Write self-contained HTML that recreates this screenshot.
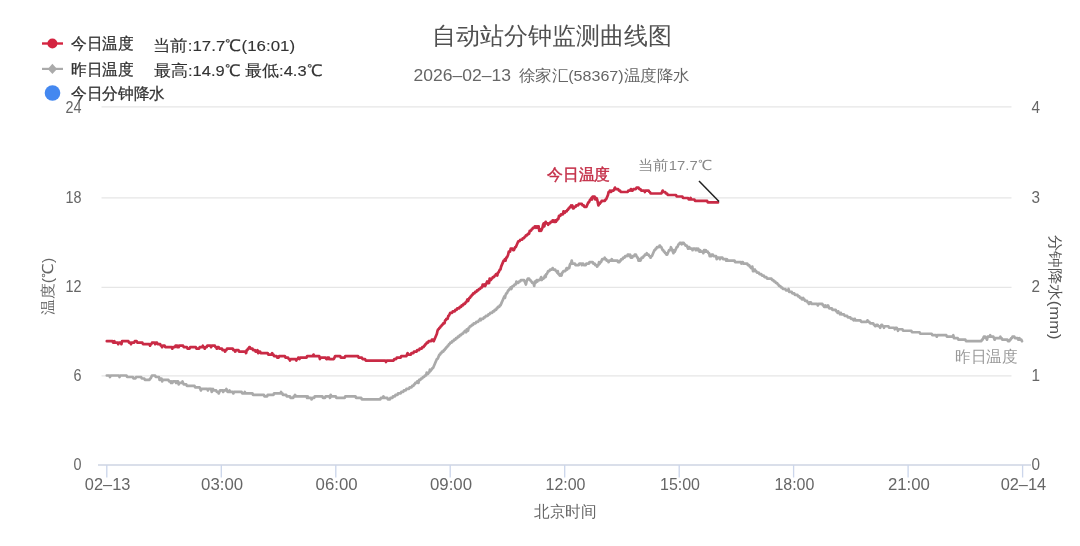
<!DOCTYPE html>
<html><head><meta charset="utf-8"><style>
html,body{margin:0;padding:0;background:#fff;width:1080px;height:546px;overflow:hidden}
svg{display:block;font-family:"Liberation Sans", sans-serif;will-change:transform}
</style></head><body>
<svg width="1080" height="546" viewBox="0 0 1080 546">
<line x1="101.5" y1="106.8" x2="1011.5" y2="106.8" stroke="#e6e6e6" stroke-width="1.33"/>
<line x1="101.5" y1="197.8" x2="1011.5" y2="197.8" stroke="#e6e6e6" stroke-width="1.33"/>
<line x1="101.5" y1="287.4" x2="1011.5" y2="287.4" stroke="#e6e6e6" stroke-width="1.33"/>
<line x1="101.5" y1="375.8" x2="1011.5" y2="375.8" stroke="#e6e6e6" stroke-width="1.33"/>
<line x1="98" y1="465" x2="1031" y2="465" stroke="#ced5e3" stroke-width="1.33"/>
<line x1="106.8" y1="465" x2="106.8" y2="477.5" stroke="#ccd6eb" stroke-width="1.33"/>
<text x="107.6" y="490.2" text-anchor="middle" fill="#666" font-size="16.3" textLength="45.5" lengthAdjust="spacingAndGlyphs">02–13</text>
<line x1="221.3" y1="465" x2="221.3" y2="477.5" stroke="#ccd6eb" stroke-width="1.33"/>
<text x="222.10000000000002" y="490.2" text-anchor="middle" fill="#666" font-size="16.3" textLength="42" lengthAdjust="spacingAndGlyphs">03:00</text>
<line x1="335.8" y1="465" x2="335.8" y2="477.5" stroke="#ccd6eb" stroke-width="1.33"/>
<text x="336.6" y="490.2" text-anchor="middle" fill="#666" font-size="16.3" textLength="42" lengthAdjust="spacingAndGlyphs">06:00</text>
<line x1="450.2" y1="465" x2="450.2" y2="477.5" stroke="#ccd6eb" stroke-width="1.33"/>
<text x="451.0" y="490.2" text-anchor="middle" fill="#666" font-size="16.3" textLength="42" lengthAdjust="spacingAndGlyphs">09:00</text>
<line x1="564.7" y1="465" x2="564.7" y2="477.5" stroke="#ccd6eb" stroke-width="1.33"/>
<text x="565.5" y="490.2" text-anchor="middle" fill="#666" font-size="16.3" textLength="40" lengthAdjust="spacingAndGlyphs">12:00</text>
<line x1="679.2" y1="465" x2="679.2" y2="477.5" stroke="#ccd6eb" stroke-width="1.33"/>
<text x="680.0" y="490.2" text-anchor="middle" fill="#666" font-size="16.3" textLength="40" lengthAdjust="spacingAndGlyphs">15:00</text>
<line x1="793.6" y1="465" x2="793.6" y2="477.5" stroke="#ccd6eb" stroke-width="1.33"/>
<text x="794.4" y="490.2" text-anchor="middle" fill="#666" font-size="16.3" textLength="40" lengthAdjust="spacingAndGlyphs">18:00</text>
<line x1="908.1" y1="465" x2="908.1" y2="477.5" stroke="#ccd6eb" stroke-width="1.33"/>
<text x="908.9" y="490.2" text-anchor="middle" fill="#666" font-size="16.3" textLength="42" lengthAdjust="spacingAndGlyphs">21:00</text>
<line x1="1022.6" y1="465" x2="1022.6" y2="477.5" stroke="#ccd6eb" stroke-width="1.33"/>
<text x="1023.4" y="490.2" text-anchor="middle" fill="#666" font-size="16.3" textLength="45.5" lengthAdjust="spacingAndGlyphs">02–14</text>
<text x="81.5" y="112.9" text-anchor="end" fill="#666" font-size="16.3" textLength="16" lengthAdjust="spacingAndGlyphs">24</text>
<text x="81.5" y="203.1" text-anchor="end" fill="#666" font-size="16.3" textLength="16" lengthAdjust="spacingAndGlyphs">18</text>
<text x="81.5" y="292.1" text-anchor="end" fill="#666" font-size="16.3" textLength="16" lengthAdjust="spacingAndGlyphs">12</text>
<text x="81.5" y="381.2" text-anchor="end" fill="#666" font-size="16.3" textLength="8" lengthAdjust="spacingAndGlyphs">6</text>
<text x="81.5" y="470.2" text-anchor="end" fill="#666" font-size="16.3" textLength="8" lengthAdjust="spacingAndGlyphs">0</text>
<text x="1031.5" y="112.9" text-anchor="start" fill="#666" font-size="16.3" textLength="8.5" lengthAdjust="spacingAndGlyphs">4</text>
<text x="1031.5" y="202.9" text-anchor="start" fill="#666" font-size="16.3" textLength="8.5" lengthAdjust="spacingAndGlyphs">3</text>
<text x="1031.5" y="292.1" text-anchor="start" fill="#666" font-size="16.3" textLength="8.5" lengthAdjust="spacingAndGlyphs">2</text>
<text x="1031.5" y="381.2" text-anchor="start" fill="#666" font-size="16.3" textLength="8.5" lengthAdjust="spacingAndGlyphs">1</text>
<text x="1031.5" y="470.2" text-anchor="start" fill="#666" font-size="16.3" textLength="8.5" lengthAdjust="spacingAndGlyphs">0</text>
<text transform="translate(53.2,286.3) rotate(-90)" text-anchor="middle" fill="#666" font-size="15" textLength="57" lengthAdjust="spacingAndGlyphs">温度(℃)</text>
<text transform="translate(1050,287) rotate(90)" text-anchor="middle" fill="#555" font-size="15" textLength="105" lengthAdjust="spacingAndGlyphs">分钟降水(mm)</text>
<polyline points="106.80,375.50 107.44,375.50 108.07,375.50 108.71,375.50 109.34,375.50 109.98,376.99 110.62,375.50 111.25,375.50 111.89,375.50 112.52,375.50 113.16,375.50 113.80,375.50 114.43,375.50 115.07,375.50 115.70,375.50 116.34,375.50 116.98,375.50 117.61,375.50 118.25,375.50 118.88,375.50 119.52,376.99 120.16,375.50 120.79,375.50 121.43,375.50 122.06,375.50 122.70,375.50 123.34,375.50 123.97,375.50 124.61,375.50 125.24,375.50 125.88,375.50 126.52,375.50 127.15,376.99 127.79,376.99 128.42,376.99 129.06,376.99 129.70,376.99 130.33,376.99 130.97,376.99 131.60,376.99 132.24,376.99 132.88,376.99 133.51,378.48 134.15,378.48 134.78,378.48 135.42,378.48 136.06,376.99 136.69,376.99 137.33,376.99 137.96,376.99 138.60,376.99 139.24,376.99 139.87,376.99 140.51,376.99 141.14,376.99 141.78,378.48 142.42,378.48 143.05,378.48 143.69,378.48 144.32,378.48 144.96,379.97 145.60,379.97 146.23,379.97 146.87,379.97 147.50,379.97 148.14,379.97 148.78,379.97 149.41,379.97 150.05,378.48 150.68,378.48 151.32,376.99 151.96,375.50 152.59,375.50 153.23,375.50 153.86,375.50 154.50,375.50 155.14,375.50 155.77,376.99 156.41,376.99 157.04,376.99 157.68,376.99 158.32,376.99 158.95,376.99 159.59,379.97 160.22,378.48 160.86,378.48 161.50,378.48 162.13,381.46 162.77,379.97 163.40,379.97 164.04,379.97 164.68,379.97 165.31,379.97 165.95,379.97 166.58,379.97 167.22,379.97 167.86,379.97 168.49,379.97 169.13,381.46 169.76,381.46 170.40,381.46 171.04,382.96 171.67,381.46 172.31,382.96 172.94,381.46 173.58,381.46 174.22,381.46 174.85,381.46 175.49,381.46 176.12,382.96 176.76,381.46 177.40,381.46 178.03,381.46 178.67,384.45 179.30,382.96 179.94,382.96 180.58,382.96 181.21,382.96 181.85,382.96 182.48,381.46 183.12,382.96 183.76,384.45 184.39,384.45 185.03,384.45 185.66,384.45 186.30,384.45 186.94,385.94 187.57,385.94 188.21,385.94 188.84,385.94 189.48,385.94 190.12,385.94 190.75,385.94 191.39,385.94 192.02,385.94 192.66,385.94 193.30,385.94 193.93,385.94 194.57,385.94 195.20,387.43 195.84,387.43 196.48,387.43 197.11,387.43 197.75,387.43 198.38,387.43 199.02,387.43 199.66,387.43 200.29,388.92 200.93,390.42 201.56,388.92 202.20,388.92 202.84,388.92 203.47,388.92 204.11,388.92 204.74,388.92 205.38,388.92 206.02,388.92 206.65,388.92 207.29,388.92 207.92,390.42 208.56,388.92 209.20,388.92 209.83,388.92 210.47,388.92 211.10,388.92 211.74,391.91 212.38,390.42 213.01,388.92 213.65,390.42 214.28,390.42 214.92,390.42 215.56,390.42 216.19,390.42 216.83,391.91 217.46,391.91 218.10,391.91 218.74,393.40 219.37,391.91 220.01,390.42 220.64,390.42 221.28,390.42 221.92,390.42 222.55,390.42 223.19,391.91 223.82,390.42 224.46,390.42 225.10,390.42 225.73,390.42 226.37,388.92 227.00,390.42 227.64,391.91 228.28,391.91 228.91,391.91 229.55,390.42 230.18,391.91 230.82,391.91 231.46,391.91 232.09,391.91 232.73,391.91 233.36,393.40 234.00,391.91 234.64,391.91 235.27,391.91 235.91,391.91 236.54,391.91 237.18,391.91 237.82,391.91 238.45,391.91 239.09,391.91 239.72,391.91 240.36,391.91 241.00,391.91 241.63,391.91 242.27,393.40 242.90,393.40 243.54,393.40 244.18,393.40 244.81,391.91 245.45,393.40 246.08,393.40 246.72,393.40 247.36,393.40 247.99,393.40 248.63,393.40 249.26,393.40 249.90,393.40 250.54,393.40 251.17,393.40 251.81,393.40 252.44,393.40 253.08,394.89 253.72,394.89 254.35,394.89 254.99,394.89 255.62,394.89 256.26,394.89 256.90,394.89 257.53,394.89 258.17,394.89 258.80,394.89 259.44,394.89 260.08,394.89 260.71,394.89 261.35,394.89 261.98,394.89 262.62,394.89 263.26,394.89 263.89,394.89 264.53,396.38 265.16,396.38 265.80,396.38 266.44,396.38 267.07,396.38 267.71,394.89 268.34,394.89 268.98,394.89 269.62,394.89 270.25,394.89 270.89,394.89 271.52,394.89 272.16,394.89 272.80,394.89 273.43,394.89 274.07,393.40 274.70,393.40 275.34,393.40 275.98,393.40 276.61,393.40 277.25,393.40 277.88,393.40 278.52,393.40 279.16,393.40 279.79,393.40 280.43,393.40 281.06,391.91 281.70,393.40 282.34,393.40 282.97,394.89 283.61,394.89 284.24,394.89 284.88,394.89 285.52,394.89 286.15,394.89 286.79,396.38 287.42,396.38 288.06,396.38 288.70,396.38 289.33,396.38 289.97,396.38 290.60,397.87 291.24,397.87 291.88,397.87 292.51,397.87 293.15,397.87 293.78,396.38 294.42,396.38 295.06,394.89 295.69,396.38 296.33,396.38 296.96,396.38 297.60,396.38 298.24,396.38 298.87,396.38 299.51,396.38 300.14,396.38 300.78,396.38 301.42,396.38 302.05,396.38 302.69,396.38 303.32,396.38 303.96,396.38 304.60,396.38 305.23,396.38 305.87,396.38 306.50,396.38 307.14,397.87 307.78,396.38 308.41,397.87 309.05,397.87 309.68,397.87 310.32,397.87 310.96,397.87 311.59,399.37 312.23,397.87 312.86,397.87 313.50,397.87 314.14,397.87 314.77,396.38 315.41,396.38 316.04,396.38 316.68,396.38 317.32,396.38 317.95,396.38 318.59,396.38 319.22,396.38 319.86,396.38 320.50,396.38 321.13,396.38 321.77,396.38 322.40,396.38 323.04,397.87 323.68,397.87 324.31,397.87 324.95,397.87 325.58,396.38 326.22,396.38 326.86,396.38 327.49,396.38 328.13,396.38 328.76,396.38 329.40,396.38 330.04,397.87 330.67,394.89 331.31,396.38 331.94,396.38 332.58,396.38 333.22,396.38 333.85,396.38 334.49,396.38 335.12,396.38 335.76,396.38 336.40,397.87 337.03,397.87 337.67,397.87 338.30,397.87 338.94,397.87 339.58,397.87 340.21,397.87 340.85,397.87 341.48,397.87 342.12,397.87 342.76,397.87 343.39,397.87 344.03,397.87 344.66,397.87 345.30,396.38 345.94,396.38 346.57,396.38 347.21,396.38 347.84,396.38 348.48,396.38 349.12,396.38 349.75,396.38 350.39,396.38 351.02,396.38 351.66,396.38 352.30,396.38 352.93,396.38 353.57,396.38 354.20,396.38 354.84,396.38 355.48,396.38 356.11,397.87 356.75,397.87 357.38,397.87 358.02,397.87 358.66,397.87 359.29,397.87 359.93,397.87 360.56,397.87 361.20,397.87 361.84,399.37 362.47,399.37 363.11,399.37 363.74,399.37 364.38,399.37 365.02,399.37 365.65,399.37 366.29,399.37 366.92,399.37 367.56,399.37 368.20,399.37 368.83,399.37 369.47,399.37 370.10,399.37 370.74,399.37 371.38,399.37 372.01,399.37 372.65,399.37 373.28,399.37 373.92,399.37 374.56,399.37 375.19,399.37 375.83,399.37 376.46,399.37 377.10,399.37 377.74,399.37 378.37,399.37 379.01,399.37 379.64,399.37 380.28,399.37 380.92,397.87 381.55,397.87 382.19,397.87 382.82,397.87 383.46,396.38 384.10,397.87 384.73,397.87 385.37,397.87 386.00,397.87 386.64,397.87 387.28,397.87 387.91,399.37 388.55,399.37 389.18,399.37 389.82,399.37 390.46,397.87 391.09,397.87 391.73,397.87 392.36,397.87 393.00,396.38 393.64,396.38 394.27,396.38 394.91,396.38 395.54,394.89 396.18,394.89 396.82,394.89 397.45,394.89 398.09,393.40 398.72,393.40 399.36,393.40 400.00,393.40 400.63,393.40 401.27,391.91 401.90,391.91 402.54,391.91 403.18,391.91 403.81,390.42 404.45,390.42 405.08,390.42 405.72,390.42 406.36,388.92 406.99,388.92 407.63,388.92 408.26,388.92 408.90,388.92 409.54,387.43 410.17,387.43 410.81,387.43 411.44,387.43 412.08,385.94 412.72,385.94 413.35,385.94 413.99,384.45 414.62,384.45 415.26,382.96 415.90,382.96 416.53,382.96 417.17,381.46 417.80,381.46 418.44,382.96 419.08,379.97 419.71,379.97 420.35,379.97 420.98,378.48 421.62,378.48 422.26,378.48 422.89,376.99 423.53,376.99 424.16,376.99 424.80,375.50 425.44,375.50 426.07,375.50 426.71,372.51 427.34,374.01 427.98,374.01 428.62,372.51 429.25,372.51 429.89,369.53 430.52,371.02 431.16,369.53 431.80,369.53 432.43,368.04 433.07,368.04 433.70,366.55 434.34,365.06 434.98,363.56 435.61,362.07 436.25,360.58 436.88,359.09 437.52,359.09 438.16,357.60 438.79,356.11 439.43,354.61 440.06,354.61 440.70,353.12 441.34,353.12 441.97,351.63 442.61,351.63 443.24,351.63 443.88,350.14 444.52,350.14 445.15,348.65 445.79,348.65 446.42,347.16 447.06,347.16 447.70,345.66 448.33,345.66 448.97,344.17 449.60,344.17 450.24,342.68 450.88,342.68 451.51,342.68 452.15,341.19 452.78,341.19 453.42,341.19 454.06,339.70 454.69,339.70 455.33,339.70 455.96,338.21 456.60,338.21 457.24,338.21 457.87,336.71 458.51,336.71 459.14,336.71 459.78,335.22 460.42,335.22 461.05,335.22 461.69,333.73 462.32,333.73 462.96,333.73 463.60,332.24 464.23,332.24 464.87,330.75 465.50,330.75 466.14,332.24 466.78,329.26 467.41,329.26 468.05,330.75 468.68,327.76 469.32,327.76 469.96,326.27 470.59,326.27 471.23,326.27 471.86,324.78 472.50,324.78 473.14,324.78 473.77,323.29 474.41,323.29 475.04,323.29 475.68,323.29 476.32,321.80 476.95,321.80 477.59,321.80 478.22,321.80 478.86,320.31 479.50,320.31 480.13,318.81 480.77,320.31 481.40,318.81 482.04,318.81 482.68,318.81 483.31,318.81 483.95,317.32 484.58,317.32 485.22,317.32 485.86,315.83 486.49,315.83 487.13,315.83 487.76,315.83 488.40,314.34 489.04,314.34 489.67,314.34 490.31,312.85 490.94,312.85 491.58,312.85 492.22,312.85 492.85,311.35 493.49,311.35 494.12,311.35 494.76,309.86 495.40,309.86 496.03,309.86 496.67,308.37 497.30,308.37 497.94,306.88 498.58,306.88 499.21,306.88 499.85,305.39 500.48,305.39 501.12,303.90 501.76,302.40 502.39,300.91 503.03,299.42 503.66,297.93 504.30,296.44 504.94,297.93 505.57,294.95 506.21,293.45 506.84,293.45 507.48,291.96 508.12,290.47 508.75,290.47 509.39,288.98 510.02,288.98 510.66,287.49 511.30,288.98 511.93,287.49 512.57,286.00 513.20,286.00 513.84,286.00 514.48,284.50 515.11,284.50 515.75,284.50 516.38,281.52 517.02,283.01 517.66,283.01 518.29,283.01 518.93,281.52 519.56,281.52 520.20,281.52 520.84,280.03 521.47,280.03 522.11,280.03 522.74,280.03 523.38,280.03 524.02,280.03 524.65,281.52 525.29,283.01 525.92,284.50 526.56,281.52 527.20,280.03 527.83,278.54 528.47,278.54 529.10,278.54 529.74,280.03 530.38,280.03 531.01,281.52 531.65,281.52 532.28,283.01 532.92,283.01 533.56,283.01 534.19,286.00 534.83,281.52 535.46,283.01 536.10,281.52 536.74,280.03 537.37,281.52 538.01,280.03 538.64,280.03 539.28,280.03 539.92,280.03 540.55,278.54 541.19,277.05 541.82,280.03 542.46,278.54 543.10,278.54 543.73,278.54 544.37,277.05 545.00,275.55 545.64,277.05 546.28,274.06 546.91,274.06 547.55,272.57 548.18,271.08 548.82,271.08 549.46,271.08 550.09,269.59 550.73,269.59 551.36,269.59 552.00,269.59 552.64,268.10 553.27,269.59 553.91,269.59 554.54,269.59 555.18,269.59 555.82,271.08 556.45,271.08 557.09,272.57 557.72,271.08 558.36,274.06 559.00,274.06 559.63,275.55 560.27,275.55 560.90,274.06 561.54,275.55 562.18,272.57 562.81,272.57 563.45,271.08 564.08,271.08 564.72,271.08 565.36,271.08 565.99,269.59 566.63,268.10 567.26,269.59 567.90,268.10 568.54,268.10 569.17,268.10 569.81,265.11 570.44,263.62 571.08,263.62 571.72,260.64 572.35,263.62 572.99,263.62 573.62,263.62 574.26,263.62 574.90,263.62 575.53,265.11 576.17,265.11 576.80,265.11 577.44,265.11 578.08,265.11 578.71,265.11 579.35,263.62 579.98,263.62 580.62,263.62 581.26,263.62 581.89,265.11 582.53,263.62 583.16,263.62 583.80,265.11 584.44,265.11 585.07,265.11 585.71,265.11 586.34,263.62 586.98,263.62 587.62,263.62 588.25,263.62 588.89,263.62 589.52,262.13 590.16,262.13 590.80,262.13 591.43,262.13 592.07,262.13 592.70,262.13 593.34,263.62 593.98,263.62 594.61,263.62 595.25,265.11 595.88,265.11 596.52,265.11 597.16,266.60 597.79,265.11 598.43,265.11 599.06,262.13 599.70,263.62 600.34,262.13 600.97,262.13 601.61,260.64 602.24,259.15 602.88,259.15 603.52,259.15 604.15,259.15 604.79,257.65 605.42,259.15 606.06,259.15 606.70,260.64 607.33,260.64 607.97,260.64 608.60,262.13 609.24,260.64 609.88,260.64 610.51,260.64 611.15,260.64 611.78,259.15 612.42,260.64 613.06,260.64 613.69,260.64 614.33,260.64 614.96,260.64 615.60,260.64 616.24,260.64 616.87,260.64 617.51,260.64 618.14,262.13 618.78,262.13 619.42,262.13 620.05,260.64 620.69,260.64 621.32,259.15 621.96,259.15 622.60,259.15 623.23,257.65 623.87,257.65 624.50,257.65 625.14,256.16 625.78,256.16 626.41,256.16 627.05,256.16 627.68,254.67 628.32,254.67 628.96,254.67 629.59,256.16 630.23,254.67 630.86,257.65 631.50,257.65 632.14,257.65 632.77,256.16 633.41,256.16 634.04,256.16 634.68,254.67 635.32,254.67 635.95,254.67 636.59,256.16 637.22,257.65 637.86,257.65 638.50,260.64 639.13,259.15 639.77,260.64 640.40,260.64 641.04,259.15 641.68,257.65 642.31,257.65 642.95,257.65 643.58,256.16 644.22,256.16 644.86,254.67 645.49,254.67 646.13,254.67 646.76,253.18 647.40,254.67 648.04,254.67 648.67,254.67 649.31,256.16 649.94,256.16 650.58,257.65 651.22,256.16 651.85,256.16 652.49,254.67 653.12,253.18 653.76,251.69 654.40,250.20 655.03,250.20 655.67,248.70 656.30,248.70 656.94,247.21 657.58,247.21 658.21,247.21 658.85,247.21 659.48,245.72 660.12,245.72 660.76,247.21 661.39,247.21 662.03,248.70 662.66,250.20 663.30,250.20 663.94,251.69 664.57,251.69 665.21,253.18 665.84,253.18 666.48,254.67 667.12,254.67 667.75,253.18 668.39,251.69 669.02,250.20 669.66,250.20 670.30,250.20 670.93,247.21 671.57,248.70 672.20,250.20 672.84,251.69 673.48,253.18 674.11,250.20 674.75,251.69 675.38,250.20 676.02,248.70 676.66,247.21 677.29,247.21 677.93,245.72 678.56,244.23 679.20,244.23 679.84,242.74 680.47,242.74 681.11,242.74 681.74,244.23 682.38,242.74 683.02,242.74 683.65,242.74 684.29,244.23 684.92,244.23 685.56,245.72 686.20,245.72 686.83,245.72 687.47,247.21 688.10,248.70 688.74,247.21 689.38,247.21 690.01,248.70 690.65,248.70 691.28,248.70 691.92,248.70 692.56,250.20 693.19,248.70 693.83,248.70 694.46,248.70 695.10,248.70 695.74,250.20 696.37,248.70 697.01,248.70 697.64,250.20 698.28,248.70 698.92,250.20 699.55,251.69 700.19,250.20 700.82,251.69 701.46,251.69 702.10,251.69 702.73,251.69 703.37,253.18 704.00,250.20 704.64,250.20 705.28,251.69 705.91,250.20 706.55,251.69 707.18,251.69 707.82,251.69 708.46,253.18 709.09,253.18 709.73,256.16 710.36,254.67 711.00,256.16 711.64,254.67 712.27,254.67 712.91,254.67 713.54,256.16 714.18,256.16 714.82,256.16 715.45,256.16 716.09,256.16 716.72,259.15 717.36,257.65 718.00,257.65 718.63,257.65 719.27,257.65 719.90,259.15 720.54,257.65 721.18,257.65 721.81,257.65 722.45,257.65 723.08,259.15 723.72,259.15 724.36,259.15 724.99,259.15 725.63,259.15 726.26,260.64 726.90,259.15 727.54,260.64 728.17,260.64 728.81,260.64 729.44,260.64 730.08,260.64 730.72,260.64 731.35,260.64 731.99,260.64 732.62,260.64 733.26,260.64 733.90,260.64 734.53,260.64 735.17,262.13 735.80,262.13 736.44,262.13 737.08,262.13 737.71,262.13 738.35,262.13 738.98,262.13 739.62,262.13 740.26,262.13 740.89,262.13 741.53,263.62 742.16,262.13 742.80,262.13 743.44,263.62 744.07,263.62 744.71,263.62 745.34,263.62 745.98,263.62 746.62,263.62 747.25,263.62 747.89,265.11 748.52,265.11 749.16,265.11 749.80,266.60 750.43,266.60 751.07,268.10 751.70,268.10 752.34,266.60 752.98,271.08 753.61,269.59 754.25,271.08 754.88,269.59 755.52,271.08 756.16,271.08 756.79,272.57 757.43,272.57 758.06,272.57 758.70,272.57 759.34,274.06 759.97,274.06 760.61,274.06 761.24,274.06 761.88,275.55 762.52,275.55 763.15,275.55 763.79,275.55 764.42,277.05 765.06,277.05 765.70,277.05 766.33,277.05 766.97,278.54 767.60,278.54 768.24,278.54 768.88,278.54 769.51,278.54 770.15,278.54 770.78,278.54 771.42,278.54 772.06,280.03 772.69,280.03 773.33,280.03 773.96,281.52 774.60,281.52 775.24,281.52 775.87,283.01 776.51,283.01 777.14,283.01 777.78,284.50 778.42,284.50 779.05,286.00 779.69,286.00 780.32,286.00 780.96,287.49 781.60,287.49 782.23,287.49 782.87,288.98 783.50,288.98 784.14,288.98 784.78,288.98 785.41,288.98 786.05,290.47 786.68,290.47 787.32,290.47 787.96,290.47 788.59,288.98 789.23,291.96 789.86,291.96 790.50,291.96 791.14,291.96 791.77,291.96 792.41,293.45 793.04,293.45 793.68,293.45 794.32,293.45 794.95,294.95 795.59,294.95 796.22,294.95 796.86,294.95 797.50,294.95 798.13,296.44 798.77,296.44 799.40,296.44 800.04,297.93 800.68,297.93 801.31,297.93 801.95,299.42 802.58,299.42 803.22,297.93 803.86,299.42 804.49,299.42 805.13,300.91 805.76,300.91 806.40,300.91 807.04,300.91 807.67,302.40 808.31,302.40 808.94,303.90 809.58,302.40 810.22,302.40 810.85,302.40 811.49,303.90 812.12,303.90 812.76,303.90 813.40,303.90 814.03,303.90 814.67,303.90 815.30,303.90 815.94,303.90 816.58,303.90 817.21,303.90 817.85,305.39 818.48,303.90 819.12,303.90 819.76,303.90 820.39,303.90 821.03,303.90 821.66,303.90 822.30,303.90 822.94,305.39 823.57,305.39 824.21,306.88 824.84,306.88 825.48,305.39 826.12,306.88 826.75,306.88 827.39,306.88 828.02,305.39 828.66,306.88 829.30,308.37 829.93,308.37 830.57,308.37 831.20,308.37 831.84,308.37 832.48,309.86 833.11,309.86 833.75,309.86 834.38,309.86 835.02,309.86 835.66,309.86 836.29,311.35 836.93,311.35 837.56,312.85 838.20,311.35 838.84,312.85 839.47,312.85 840.11,314.34 840.74,312.85 841.38,314.34 842.02,314.34 842.65,314.34 843.29,314.34 843.92,314.34 844.56,315.83 845.20,315.83 845.83,315.83 846.47,315.83 847.10,315.83 847.74,317.32 848.38,317.32 849.01,317.32 849.65,317.32 850.28,317.32 850.92,318.81 851.56,318.81 852.19,318.81 852.83,318.81 853.46,320.31 854.10,320.31 854.74,318.81 855.37,320.31 856.01,320.31 856.64,320.31 857.28,320.31 857.92,320.31 858.55,320.31 859.19,320.31 859.82,320.31 860.46,320.31 861.10,321.80 861.73,321.80 862.37,321.80 863.00,321.80 863.64,321.80 864.28,321.80 864.91,321.80 865.55,321.80 866.18,321.80 866.82,321.80 867.46,320.31 868.09,321.80 868.73,321.80 869.36,321.80 870.00,323.29 870.64,323.29 871.27,323.29 871.91,323.29 872.54,323.29 873.18,323.29 873.82,324.78 874.45,324.78 875.09,326.27 875.72,326.27 876.36,324.78 877.00,324.78 877.63,324.78 878.27,326.27 878.90,326.27 879.54,326.27 880.18,327.76 880.81,326.27 881.45,324.78 882.08,324.78 882.72,326.27 883.36,326.27 883.99,327.76 884.63,326.27 885.26,326.27 885.90,326.27 886.54,326.27 887.17,326.27 887.81,326.27 888.44,326.27 889.08,327.76 889.72,327.76 890.35,327.76 890.99,327.76 891.62,327.76 892.26,327.76 892.90,327.76 893.53,327.76 894.17,327.76 894.80,329.26 895.44,327.76 896.08,327.76 896.71,327.76 897.35,329.26 897.98,330.75 898.62,329.26 899.26,329.26 899.89,329.26 900.53,329.26 901.16,329.26 901.80,329.26 902.44,329.26 903.07,330.75 903.71,330.75 904.34,330.75 904.98,330.75 905.62,330.75 906.25,330.75 906.89,330.75 907.52,330.75 908.16,330.75 908.80,330.75 909.43,330.75 910.07,330.75 910.70,330.75 911.34,330.75 911.98,332.24 912.61,332.24 913.25,332.24 913.88,332.24 914.52,332.24 915.16,332.24 915.79,332.24 916.43,332.24 917.06,332.24 917.70,332.24 918.34,332.24 918.97,332.24 919.61,332.24 920.24,333.73 920.88,333.73 921.52,333.73 922.15,333.73 922.79,333.73 923.42,333.73 924.06,333.73 924.70,333.73 925.33,333.73 925.97,333.73 926.60,333.73 927.24,333.73 927.88,333.73 928.51,333.73 929.15,333.73 929.78,333.73 930.42,333.73 931.06,333.73 931.69,333.73 932.33,335.22 932.96,335.22 933.60,335.22 934.24,335.22 934.87,335.22 935.51,335.22 936.14,335.22 936.78,336.71 937.42,335.22 938.05,335.22 938.69,335.22 939.32,335.22 939.96,335.22 940.60,335.22 941.23,335.22 941.87,335.22 942.50,335.22 943.14,335.22 943.78,335.22 944.41,335.22 945.05,335.22 945.68,335.22 946.32,335.22 946.96,336.71 947.59,336.71 948.23,336.71 948.86,336.71 949.50,336.71 950.14,336.71 950.77,336.71 951.41,336.71 952.04,336.71 952.68,336.71 953.32,335.22 953.95,338.21 954.59,338.21 955.22,338.21 955.86,338.21 956.50,338.21 957.13,338.21 957.77,338.21 958.40,339.70 959.04,339.70 959.68,339.70 960.31,339.70 960.95,339.70 961.58,339.70 962.22,339.70 962.86,339.70 963.49,339.70 964.13,339.70 964.76,339.70 965.40,339.70 966.04,341.19 966.67,341.19 967.31,341.19 967.94,341.19 968.58,341.19 969.22,341.19 969.85,341.19 970.49,341.19 971.12,341.19 971.76,341.19 972.40,341.19 973.03,341.19 973.67,341.19 974.30,341.19 974.94,341.19 975.58,341.19 976.21,341.19 976.85,341.19 977.48,341.19 978.12,341.19 978.76,341.19 979.39,341.19 980.03,341.19 980.66,341.19 981.30,341.19 981.94,339.70 982.57,339.70 983.21,338.21 983.84,336.71 984.48,336.71 985.12,336.71 985.75,338.21 986.39,338.21 987.02,339.70 987.66,336.71 988.30,336.71 988.93,336.71 989.57,336.71 990.20,335.22 990.84,336.71 991.48,336.71 992.11,336.71 992.75,336.71 993.38,336.71 994.02,338.21 994.66,339.70 995.29,338.21 995.93,338.21 996.56,338.21 997.20,338.21 997.84,338.21 998.47,338.21 999.11,338.21 999.74,338.21 1000.38,336.71 1001.02,338.21 1001.65,338.21 1002.29,339.70 1002.92,339.70 1003.56,339.70 1004.20,339.70 1004.83,339.70 1005.47,339.70 1006.10,339.70 1006.74,339.70 1007.38,339.70 1008.01,341.19 1008.65,341.19 1009.28,341.19 1009.92,339.70 1010.56,339.70 1011.19,338.21 1011.83,338.21 1012.46,336.71 1013.10,336.71 1013.74,336.71 1014.37,336.71 1015.01,338.21 1015.64,338.21 1016.28,338.21 1016.92,338.21 1017.55,338.21 1018.19,339.70 1018.82,339.70 1019.46,338.21 1020.10,339.70 1020.73,339.70 1021.37,339.70 1022.00,341.19" fill="none" stroke="#aaaaaa" stroke-width="2.7" stroke-linejoin="round" stroke-linecap="round"/>
<polyline points="106.80,341.19 107.44,341.19 108.07,341.19 108.71,341.19 109.34,341.19 109.98,341.19 110.62,341.19 111.25,341.19 111.89,341.19 112.52,341.19 113.16,342.68 113.80,342.68 114.43,341.19 115.07,342.68 115.70,342.68 116.34,342.68 116.98,342.68 117.61,342.68 118.25,344.17 118.88,342.68 119.52,342.68 120.16,342.68 120.79,342.68 121.43,344.17 122.06,341.19 122.70,341.19 123.34,341.19 123.97,341.19 124.61,341.19 125.24,341.19 125.88,341.19 126.52,341.19 127.15,341.19 127.79,341.19 128.42,341.19 129.06,342.68 129.70,342.68 130.33,342.68 130.97,344.17 131.60,342.68 132.24,342.68 132.88,342.68 133.51,342.68 134.15,342.68 134.78,341.19 135.42,341.19 136.06,341.19 136.69,341.19 137.33,342.68 137.96,342.68 138.60,342.68 139.24,342.68 139.87,342.68 140.51,342.68 141.14,342.68 141.78,342.68 142.42,342.68 143.05,344.17 143.69,344.17 144.32,344.17 144.96,344.17 145.60,344.17 146.23,344.17 146.87,344.17 147.50,344.17 148.14,344.17 148.78,344.17 149.41,344.17 150.05,345.66 150.68,344.17 151.32,344.17 151.96,342.68 152.59,342.68 153.23,342.68 153.86,342.68 154.50,342.68 155.14,344.17 155.77,342.68 156.41,342.68 157.04,342.68 157.68,344.17 158.32,344.17 158.95,344.17 159.59,344.17 160.22,344.17 160.86,345.66 161.50,345.66 162.13,347.16 162.77,345.66 163.40,345.66 164.04,345.66 164.68,345.66 165.31,347.16 165.95,347.16 166.58,347.16 167.22,347.16 167.86,347.16 168.49,347.16 169.13,347.16 169.76,347.16 170.40,347.16 171.04,347.16 171.67,347.16 172.31,348.65 172.94,347.16 173.58,347.16 174.22,347.16 174.85,347.16 175.49,345.66 176.12,345.66 176.76,345.66 177.40,347.16 178.03,345.66 178.67,347.16 179.30,345.66 179.94,345.66 180.58,345.66 181.21,345.66 181.85,345.66 182.48,345.66 183.12,345.66 183.76,347.16 184.39,347.16 185.03,347.16 185.66,347.16 186.30,347.16 186.94,347.16 187.57,348.65 188.21,348.65 188.84,348.65 189.48,348.65 190.12,347.16 190.75,347.16 191.39,347.16 192.02,347.16 192.66,347.16 193.30,347.16 193.93,347.16 194.57,347.16 195.20,347.16 195.84,347.16 196.48,348.65 197.11,348.65 197.75,348.65 198.38,348.65 199.02,348.65 199.66,347.16 200.29,347.16 200.93,347.16 201.56,347.16 202.20,347.16 202.84,345.66 203.47,347.16 204.11,347.16 204.74,348.65 205.38,347.16 206.02,347.16 206.65,347.16 207.29,345.66 207.92,345.66 208.56,345.66 209.20,345.66 209.83,345.66 210.47,345.66 211.10,347.16 211.74,345.66 212.38,345.66 213.01,345.66 213.65,345.66 214.28,345.66 214.92,345.66 215.56,347.16 216.19,347.16 216.83,348.65 217.46,347.16 218.10,347.16 218.74,347.16 219.37,348.65 220.01,348.65 220.64,348.65 221.28,348.65 221.92,348.65 222.55,350.14 223.19,350.14 223.82,350.14 224.46,350.14 225.10,351.63 225.73,350.14 226.37,350.14 227.00,348.65 227.64,348.65 228.28,348.65 228.91,348.65 229.55,348.65 230.18,348.65 230.82,348.65 231.46,348.65 232.09,348.65 232.73,348.65 233.36,350.14 234.00,350.14 234.64,350.14 235.27,351.63 235.91,350.14 236.54,350.14 237.18,350.14 237.82,350.14 238.45,350.14 239.09,351.63 239.72,351.63 240.36,351.63 241.00,351.63 241.63,351.63 242.27,351.63 242.90,351.63 243.54,351.63 244.18,351.63 244.81,351.63 245.45,351.63 246.08,353.12 246.72,350.14 247.36,350.14 247.99,348.65 248.63,348.65 249.26,347.16 249.90,347.16 250.54,348.65 251.17,348.65 251.81,348.65 252.44,348.65 253.08,350.14 253.72,350.14 254.35,350.14 254.99,350.14 255.62,351.63 256.26,351.63 256.90,351.63 257.53,350.14 258.17,353.12 258.80,351.63 259.44,351.63 260.08,351.63 260.71,353.12 261.35,353.12 261.98,353.12 262.62,353.12 263.26,353.12 263.89,353.12 264.53,353.12 265.16,353.12 265.80,353.12 266.44,353.12 267.07,353.12 267.71,353.12 268.34,354.61 268.98,354.61 269.62,354.61 270.25,354.61 270.89,354.61 271.52,354.61 272.16,353.12 272.80,354.61 273.43,354.61 274.07,356.11 274.70,356.11 275.34,356.11 275.98,356.11 276.61,356.11 277.25,357.60 277.88,357.60 278.52,357.60 279.16,356.11 279.79,356.11 280.43,356.11 281.06,356.11 281.70,356.11 282.34,356.11 282.97,356.11 283.61,356.11 284.24,356.11 284.88,356.11 285.52,357.60 286.15,357.60 286.79,357.60 287.42,357.60 288.06,357.60 288.70,359.09 289.33,359.09 289.97,360.58 290.60,359.09 291.24,359.09 291.88,359.09 292.51,359.09 293.15,359.09 293.78,359.09 294.42,359.09 295.06,359.09 295.69,359.09 296.33,360.58 296.96,359.09 297.60,359.09 298.24,357.60 298.87,357.60 299.51,359.09 300.14,357.60 300.78,357.60 301.42,357.60 302.05,357.60 302.69,357.60 303.32,357.60 303.96,357.60 304.60,357.60 305.23,357.60 305.87,357.60 306.50,357.60 307.14,356.11 307.78,356.11 308.41,356.11 309.05,356.11 309.68,356.11 310.32,356.11 310.96,356.11 311.59,356.11 312.23,356.11 312.86,356.11 313.50,354.61 314.14,356.11 314.77,356.11 315.41,356.11 316.04,356.11 316.68,356.11 317.32,356.11 317.95,356.11 318.59,356.11 319.22,356.11 319.86,359.09 320.50,357.60 321.13,357.60 321.77,357.60 322.40,357.60 323.04,357.60 323.68,357.60 324.31,357.60 324.95,357.60 325.58,357.60 326.22,359.09 326.86,359.09 327.49,357.60 328.13,359.09 328.76,357.60 329.40,359.09 330.04,359.09 330.67,359.09 331.31,359.09 331.94,359.09 332.58,359.09 333.22,359.09 333.85,359.09 334.49,357.60 335.12,356.11 335.76,356.11 336.40,356.11 337.03,356.11 337.67,356.11 338.30,356.11 338.94,356.11 339.58,356.11 340.21,356.11 340.85,357.60 341.48,357.60 342.12,357.60 342.76,357.60 343.39,357.60 344.03,357.60 344.66,357.60 345.30,356.11 345.94,356.11 346.57,356.11 347.21,356.11 347.84,356.11 348.48,356.11 349.12,356.11 349.75,356.11 350.39,356.11 351.02,356.11 351.66,356.11 352.30,356.11 352.93,356.11 353.57,356.11 354.20,356.11 354.84,356.11 355.48,356.11 356.11,356.11 356.75,356.11 357.38,356.11 358.02,356.11 358.66,357.60 359.29,357.60 359.93,357.60 360.56,357.60 361.20,357.60 361.84,357.60 362.47,359.09 363.11,359.09 363.74,359.09 364.38,359.09 365.02,359.09 365.65,360.58 366.29,360.58 366.92,360.58 367.56,360.58 368.20,360.58 368.83,360.58 369.47,360.58 370.10,360.58 370.74,360.58 371.38,360.58 372.01,360.58 372.65,360.58 373.28,360.58 373.92,360.58 374.56,360.58 375.19,360.58 375.83,360.58 376.46,360.58 377.10,360.58 377.74,360.58 378.37,360.58 379.01,360.58 379.64,360.58 380.28,360.58 380.92,360.58 381.55,360.58 382.19,360.58 382.82,360.58 383.46,360.58 384.10,360.58 384.73,360.58 385.37,360.58 386.00,362.07 386.64,360.58 387.28,360.58 387.91,360.58 388.55,360.58 389.18,360.58 389.82,360.58 390.46,360.58 391.09,360.58 391.73,360.58 392.36,360.58 393.00,360.58 393.64,360.58 394.27,359.09 394.91,359.09 395.54,359.09 396.18,359.09 396.82,357.60 397.45,357.60 398.09,357.60 398.72,357.60 399.36,357.60 400.00,357.60 400.63,357.60 401.27,356.11 401.90,356.11 402.54,356.11 403.18,356.11 403.81,356.11 404.45,356.11 405.08,356.11 405.72,356.11 406.36,356.11 406.99,354.61 407.63,353.12 408.26,354.61 408.90,354.61 409.54,354.61 410.17,354.61 410.81,354.61 411.44,353.12 412.08,353.12 412.72,353.12 413.35,353.12 413.99,351.63 414.62,351.63 415.26,351.63 415.90,351.63 416.53,351.63 417.17,350.14 417.80,350.14 418.44,350.14 419.08,350.14 419.71,348.65 420.35,348.65 420.98,348.65 421.62,348.65 422.26,347.16 422.89,347.16 423.53,347.16 424.16,345.66 424.80,345.66 425.44,344.17 426.07,344.17 426.71,342.68 427.34,342.68 427.98,342.68 428.62,341.19 429.25,341.19 429.89,341.19 430.52,341.19 431.16,341.19 431.80,339.70 432.43,339.70 433.07,339.70 433.70,341.19 434.34,339.70 434.98,338.21 435.61,336.71 436.25,335.22 436.88,333.73 437.52,330.75 438.16,329.26 438.79,329.26 439.43,327.76 440.06,327.76 440.70,326.27 441.34,326.27 441.97,324.78 442.61,324.78 443.24,323.29 443.88,323.29 444.52,323.29 445.15,320.31 445.79,320.31 446.42,318.81 447.06,318.81 447.70,318.81 448.33,315.83 448.97,315.83 449.60,314.34 450.24,312.85 450.88,312.85 451.51,312.85 452.15,312.85 452.78,311.35 453.42,311.35 454.06,311.35 454.69,311.35 455.33,309.86 455.96,309.86 456.60,309.86 457.24,308.37 457.87,308.37 458.51,308.37 459.14,308.37 459.78,306.88 460.42,306.88 461.05,306.88 461.69,305.39 462.32,305.39 462.96,305.39 463.60,303.90 464.23,303.90 464.87,303.90 465.50,302.40 466.14,302.40 466.78,300.91 467.41,299.42 468.05,300.91 468.68,299.42 469.32,297.93 469.96,297.93 470.59,296.44 471.23,296.44 471.86,294.95 472.50,294.95 473.14,293.45 473.77,293.45 474.41,293.45 475.04,291.96 475.68,291.96 476.32,291.96 476.95,290.47 477.59,290.47 478.22,290.47 478.86,288.98 479.50,288.98 480.13,288.98 480.77,287.49 481.40,287.49 482.04,287.49 482.68,284.50 483.31,286.00 483.95,286.00 484.58,284.50 485.22,286.00 485.86,284.50 486.49,283.01 487.13,281.52 487.76,283.01 488.40,281.52 489.04,283.01 489.67,278.54 490.31,280.03 490.94,280.03 491.58,278.54 492.22,278.54 492.85,277.05 493.49,277.05 494.12,277.05 494.76,275.55 495.40,275.55 496.03,274.06 496.67,274.06 497.30,275.55 497.94,272.57 498.58,272.57 499.21,271.08 499.85,269.59 500.48,269.59 501.12,266.60 501.76,265.11 502.39,263.62 503.03,262.13 503.66,260.64 504.30,260.64 504.94,259.15 505.57,260.64 506.21,257.65 506.84,257.65 507.48,256.16 508.12,254.67 508.75,251.69 509.39,251.69 510.02,251.69 510.66,248.70 511.30,248.70 511.93,248.70 512.57,248.70 513.20,250.20 513.84,250.20 514.48,248.70 515.11,247.21 515.75,247.21 516.38,245.72 517.02,244.23 517.66,242.74 518.29,241.25 518.93,241.25 519.56,241.25 520.20,239.75 520.84,239.75 521.47,239.75 522.11,239.75 522.74,238.26 523.38,238.26 524.02,238.26 524.65,236.77 525.29,236.77 525.92,235.28 526.56,235.28 527.20,235.28 527.83,233.79 528.47,233.79 529.10,233.79 529.74,230.80 530.38,230.80 531.01,230.80 531.65,229.31 532.28,229.31 532.92,227.82 533.56,227.82 534.19,227.82 534.83,226.33 535.46,226.33 536.10,227.82 536.74,226.33 537.37,226.33 538.01,227.82 538.64,226.33 539.28,230.80 539.92,229.31 540.55,230.80 541.19,230.80 541.82,229.31 542.46,227.82 543.10,224.84 543.73,223.34 544.37,226.33 545.00,223.34 545.64,221.85 546.28,223.34 546.91,223.34 547.55,223.34 548.18,224.84 548.82,223.34 549.46,223.34 550.09,223.34 550.73,221.85 551.36,221.85 552.00,221.85 552.64,220.36 553.27,220.36 553.91,221.85 554.54,221.85 555.18,220.36 555.82,221.85 556.45,220.36 557.09,220.36 557.72,218.87 558.36,218.87 559.00,215.89 559.63,215.89 560.27,215.89 560.90,214.39 561.54,214.39 562.18,214.39 562.81,214.39 563.45,211.41 564.08,212.90 564.72,212.90 565.36,211.41 565.99,211.41 566.63,211.41 567.26,209.92 567.90,209.92 568.54,208.43 569.17,208.43 569.81,206.94 570.44,206.94 571.08,205.44 571.72,206.94 572.35,205.44 572.99,208.43 573.62,208.43 574.26,206.94 574.90,206.94 575.53,206.94 576.17,205.44 576.80,205.44 577.44,205.44 578.08,205.44 578.71,203.95 579.35,203.95 579.98,203.95 580.62,203.95 581.26,203.95 581.89,203.95 582.53,205.44 583.16,205.44 583.80,205.44 584.44,206.94 585.07,206.94 585.71,206.94 586.34,206.94 586.98,205.44 587.62,203.95 588.25,202.46 588.89,202.46 589.52,200.97 590.16,199.48 590.80,199.48 591.43,197.99 592.07,199.48 592.70,196.49 593.34,196.49 593.98,196.49 594.61,196.49 595.25,199.48 595.88,197.99 596.52,197.99 597.16,199.48 597.79,202.46 598.43,205.44 599.06,203.95 599.70,203.95 600.34,202.46 600.97,202.46 601.61,200.97 602.24,200.97 602.88,200.97 603.52,200.97 604.15,200.97 604.79,200.97 605.42,199.48 606.06,199.48 606.70,197.99 607.33,196.49 607.97,195.00 608.60,192.02 609.24,192.02 609.88,190.53 610.51,192.02 611.15,192.02 611.78,190.53 612.42,190.53 613.06,190.53 613.69,190.53 614.33,189.04 614.96,187.54 615.60,189.04 616.24,189.04 616.87,189.04 617.51,189.04 618.14,189.04 618.78,190.53 619.42,190.53 620.05,190.53 620.69,192.02 621.32,192.02 621.96,192.02 622.60,192.02 623.23,192.02 623.87,192.02 624.50,192.02 625.14,192.02 625.78,192.02 626.41,192.02 627.05,192.02 627.68,192.02 628.32,190.53 628.96,190.53 629.59,190.53 630.23,190.53 630.86,189.04 631.50,190.53 632.14,190.53 632.77,190.53 633.41,189.04 634.04,189.04 634.68,189.04 635.32,189.04 635.95,189.04 636.59,187.54 637.22,187.54 637.86,187.54 638.50,187.54 639.13,189.04 639.77,189.04 640.40,189.04 641.04,190.53 641.68,190.53 642.31,190.53 642.95,190.53 643.58,190.53 644.22,190.53 644.86,192.02 645.49,190.53 646.13,190.53 646.76,190.53 647.40,190.53 648.04,190.53 648.67,190.53 649.31,192.02 649.94,192.02 650.58,193.51 651.22,193.51 651.85,193.51 652.49,193.51 653.12,193.51 653.76,193.51 654.40,193.51 655.03,193.51 655.67,193.51 656.30,193.51 656.94,193.51 657.58,193.51 658.21,193.51 658.85,193.51 659.48,193.51 660.12,193.51 660.76,193.51 661.39,193.51 662.03,192.02 662.66,190.53 663.30,192.02 663.94,192.02 664.57,192.02 665.21,192.02 665.84,193.51 666.48,193.51 667.12,193.51 667.75,195.00 668.39,195.00 669.02,195.00 669.66,195.00 670.30,195.00 670.93,195.00 671.57,195.00 672.20,195.00 672.84,195.00 673.48,195.00 674.11,195.00 674.75,195.00 675.38,195.00 676.02,195.00 676.66,196.49 677.29,196.49 677.93,196.49 678.56,196.49 679.20,196.49 679.84,196.49 680.47,196.49 681.11,196.49 681.74,196.49 682.38,196.49 683.02,197.99 683.65,197.99 684.29,197.99 684.92,197.99 685.56,197.99 686.20,197.99 686.83,197.99 687.47,197.99 688.10,197.99 688.74,199.48 689.38,199.48 690.01,199.48 690.65,197.99 691.28,199.48 691.92,199.48 692.56,199.48 693.19,199.48 693.83,199.48 694.46,199.48 695.10,200.97 695.74,200.97 696.37,200.97 697.01,200.97 697.64,200.97 698.28,200.97 698.92,200.97 699.55,200.97 700.19,200.97 700.82,200.97 701.46,200.97 702.10,200.97 702.73,200.97 703.37,200.97 704.00,200.97 704.64,200.97 705.28,200.97 705.91,200.97 706.55,200.97 707.18,200.97 707.82,202.46 708.46,202.46 709.09,202.46 709.73,202.46 710.36,202.46 711.00,202.46 711.64,202.46 712.27,202.46 712.91,202.46 713.54,202.46 714.18,202.46 714.82,202.46 715.45,202.46 716.09,202.46 716.72,202.46 717.36,202.46 718.00,202.46" fill="none" stroke="#c92a45" stroke-width="2.7" stroke-linejoin="round" stroke-linecap="round"/>
<line x1="699" y1="181" x2="719" y2="201.6" stroke="#222" stroke-width="1.5"/>
<text x="432" y="43.5" font-size="23.5" fill="#505050" text-anchor="start" textLength="240" lengthAdjust="spacingAndGlyphs" >自动站分钟监测曲线图</text>
<text x="413.5" y="81" font-size="16" fill="#666" text-anchor="start" textLength="97.5" lengthAdjust="spacingAndGlyphs" >2026–02–13</text>
<text x="518.5" y="80.8" font-size="15.5" fill="#666" text-anchor="start" textLength="171.5" lengthAdjust="spacingAndGlyphs" >徐家汇(58367)温度降水</text>
<text x="71" y="49.3" font-size="15.5" fill="#333" text-anchor="start" textLength="62.5" lengthAdjust="spacingAndGlyphs" stroke="#333" stroke-width="0.3">今日温度</text>
<text x="153" y="51" font-size="15.5" fill="#333" text-anchor="start" textLength="142" lengthAdjust="spacingAndGlyphs" stroke="#333" stroke-width="0.12">当前:17.7℃(16:01)</text>
<text x="71" y="74.5" font-size="15.5" fill="#333" text-anchor="start" textLength="62.5" lengthAdjust="spacingAndGlyphs" stroke="#333" stroke-width="0.3">昨日温度</text>
<text x="154" y="76" font-size="15.5" fill="#333" text-anchor="start" textLength="168.5" lengthAdjust="spacingAndGlyphs" stroke="#333" stroke-width="0.12">最高:14.9℃ 最低:4.3℃</text>
<text x="71" y="99.3" font-size="15.5" fill="#333" text-anchor="start" textLength="94" lengthAdjust="spacingAndGlyphs" stroke="#333" stroke-width="0.3">今日分钟降水</text>
<text x="547" y="180" font-size="15.5" fill="#c42f48" text-anchor="start" textLength="63" lengthAdjust="spacingAndGlyphs" stroke="#c42f48" stroke-width="0.45">今日温度</text>
<text x="638" y="169.6" font-size="13.5" fill="#888" text-anchor="start" textLength="74" lengthAdjust="spacingAndGlyphs" >当前17.7℃</text>
<text x="955" y="362" font-size="15.5" fill="#999" text-anchor="start" textLength="62.5" lengthAdjust="spacingAndGlyphs" >昨日温度</text>
<text x="534" y="517" font-size="15.5" fill="#666" text-anchor="start" textLength="62.5" lengthAdjust="spacingAndGlyphs" >北京时间</text>
<line x1="42" y1="43.5" x2="63" y2="43.5" stroke="#d42440" stroke-width="2.4"/>
<circle cx="52.4" cy="43.5" r="5" fill="#d42440"/>
<line x1="42" y1="68.9" x2="63" y2="68.9" stroke="#aaa" stroke-width="2.2"/>
<path d="M52.4,63.7 L57,68.9 L52.4,74.1 L47.8,68.9 Z" fill="#aaa"/>
<circle cx="52.5" cy="93" r="7.8" fill="#4488f0"/>
</svg></body></html>
